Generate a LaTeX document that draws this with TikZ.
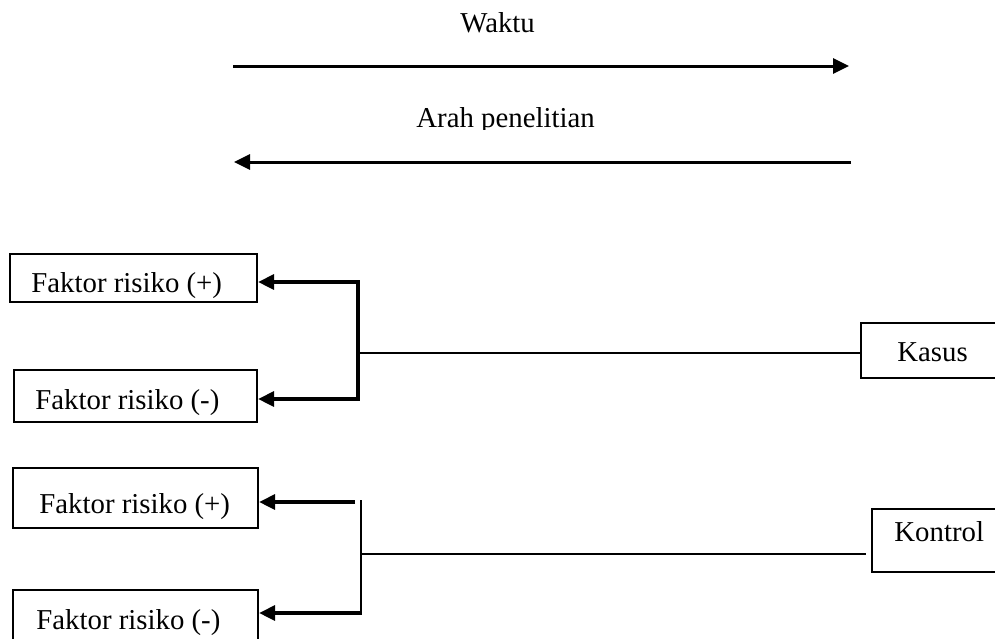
\documentclass[tikz,border=0pt]{standalone}
\usepackage{fontspec}
\setmainfont{Liberation Serif}
\usetikzlibrary{arrows.meta,fit}
\tikzset{
  pointer/.tip={Triangle[length=8pt,width=7.5pt]},
  box/.style={draw, line width=1.1pt, inner sep=0pt},
  lbl/.style={font=\fontsize{14.4pt}{17pt}\selectfont, inner sep=0pt, anchor=base west},
  timeline/.style={line width=1.5pt},
  branch/.style={line width=1.6pt},
  stem/.style={line width=1.1pt},
  link/.style={line width=0.8pt}
}
\begin{document}
\begin{tikzpicture}[x=0.5pt,y=-0.5pt]
  \clip (0,0) rectangle (995,638);

  % time and research direction
  \node[lbl] (waktu) at (460,32) {Waktu};
  \coordinate (tA) at (233,66);
  \coordinate (tB) at (849,66);
  \draw[timeline, -pointer] (tA) -- (tB);
  \begin{scope}
    \clip (380,95) rectangle (650,129);
    \node[lbl] (arah) at (416,127.5) {Arah penelitian};
  \end{scope}
  \coordinate (rA) at (851,162);
  \coordinate (rB) at (234,162);
  \draw[timeline, -pointer] (rA) -- (rB);

  % case group
  \node[box, fit={(10,254) (257,302)}] (b1) {};
  \node[lbl] (t1) at (31,292) {Faktor risiko (+)};
  \node[box, fit={(14,370) (257,422)}] (b2) {};
  \node[lbl] (t2) at (35,409) {Faktor risiko (-)};
  \node[box, fit={(861,323) (1010,378)}] (kasus) {};
  \node[lbl] (tk) at (897,361) {Kasus};
  \coordinate (kTop) at (358,282);
  \coordinate (kBot) at (358,399);
  \coordinate (kMid) at (358,353);
  \draw[branch, pointer-pointer] (kTop -| b1.east) -- (kTop) -- (kBot) -- (kBot -| b2.east);
  \draw[link] (kMid) -- (kMid -| kasus.west);

  % control group
  \node[box, fit={(13,468) (258,528)}] (b3) {};
  \node[lbl] (t3) at (39,513) {Faktor risiko (+)};
  \node[box, fit={(13,590) (258,660)}] (b4) {};
  \node[lbl] (t4) at (36,629) {Faktor risiko (-)};
  \node[box, fit={(872,509) (1010,572)}] (kontrol) {};
  \node[lbl] (tc) at (894,541) {Kontrol};
  \coordinate (cTop) at (361,500);
  \coordinate (cBot) at (361,615);
  \coordinate (cMid) at (361,554);
  \coordinate (cA) at (355,502);
  \coordinate (cB) at (361,613);
  \draw[stem] (cTop) -- (cBot);
  \draw[branch, -pointer] (cA) -- (cA -| b3.east);
  \draw[branch, -pointer] (cB) -- (cB -| b4.east);
  \draw[link, shorten >=2.5pt] (cMid) -- (cMid -| kontrol.west);
\end{tikzpicture}
\end{document}
